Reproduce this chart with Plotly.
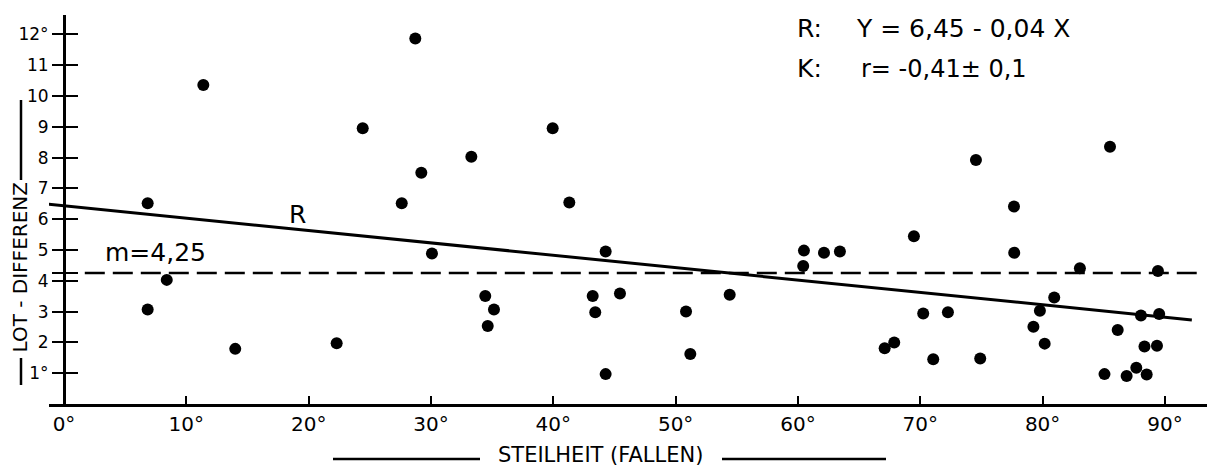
import plotly.graph_objects as go

# ---- data ----
steilheit = [6.84, 11.39, 24.42, 8.40, 6.84, 14.00, 22.29, 27.61, 28.72, 29.21,
             33.30, 39.95, 41.31, 30.08, 44.28, 34.44, 35.15, 34.64, 43.22, 43.43,
             45.45, 44.28, 50.85, 51.20, 54.42, 60.49, 60.43, 62.13, 63.43, 69.48,
             74.55, 77.66, 77.68, 85.51, 83.05, 89.43, 70.24, 72.26, 67.09, 67.87,
             71.06, 74.90, 80.95, 79.78, 79.25, 80.17, 88.04, 89.53, 86.14, 88.33,
             89.35, 85.06, 86.87, 87.66, 88.51]
lot_differenz = [6.52, 10.36, 8.95, 4.03, 3.07, 1.79, 1.97, 6.52, 11.87, 7.51,
                 8.03, 8.95, 6.54, 4.89, 4.95, 3.51, 3.07, 2.53, 3.51, 2.98,
                 3.59, 0.97, 3.00, 1.62, 3.55, 4.98, 4.48, 4.91, 4.95, 5.45,
                 7.92, 6.41, 4.91, 8.35, 4.41, 4.32, 2.94, 2.98, 1.81, 2.00,
                 1.45, 1.48, 3.46, 3.03, 2.51, 1.96, 2.87, 2.92, 2.40, 1.87,
                 1.89, 0.97, 0.91, 1.18, 0.96]

regr_x = [-1.3, 92.2]
regr_y = [6.49, 2.73]
mean_x = [1.7, 92.6]
mean_y = [4.25, 4.25]

x_tickvals = [0, 10, 20, 30, 40, 50, 60, 70, 80, 90]
x_ticktext = ["0°", "10°", "20°", "30°", "40°", "50°", "60°", "70°", "80°", "90°"]
y_tickvals = [1, 2, 3, 4, 4.25, 5, 6, 7, 8, 9, 10, 11, 12]
y_ticktext = ["1°", "2", "3", "4", "", "5", "6", "7", "8", "9", "10", "11", "12°"]

FONT = "DejaVu Sans"
W, H = 1210, 469
ML, MR, MT, MB = 49, 3, 15, 65
PW, PH = W - ML - MR, H - MT - MB
X_RANGE = [-1.226, 93.44]
Y_RANGE = [0, 12.63]
YPOS = (64 - ML) / PW


def px(x):
    return (x - ML) / PW


def py(y):
    return (H - MB - y) / PH


fig = go.Figure()

fig.add_trace(go.Scatter(
    x=mean_x, y=mean_y, mode="lines", yaxis="y2",
    line=dict(color="black", width=2.5, dash="20px,8px"),
    showlegend=False, hoverinfo="skip"))

fig.add_trace(go.Scatter(
    x=regr_x, y=regr_y, mode="lines",
    line=dict(color="black", width=3),
    showlegend=False, hoverinfo="skip", cliponaxis=False))

fig.add_trace(go.Scatter(
    x=steilheit, y=lot_differenz, mode="markers",
    marker=dict(color="black", size=12, line=dict(width=0)),
    showlegend=False, cliponaxis=False))

axis_common = dict(showgrid=False, zeroline=False)

fig.update_layout(
    width=W, height=H,
    margin=dict(l=ML, r=MR, t=MT, b=MB, autoexpand=False),
    paper_bgcolor="white", plot_bgcolor="white",
    font=dict(family=FONT, color="black"),
    xaxis=dict(range=X_RANGE, showline=True, linewidth=3, linecolor="black",
               ticks="inside", ticklen=8, tickwidth=2, tickcolor="black",
               tickvals=x_tickvals, ticktext=x_ticktext,
               tickfont=dict(family=FONT, size=20, color="black"),
               **axis_common),
    yaxis=dict(range=Y_RANGE, anchor="free", position=YPOS,
               showline=True, linewidth=3, linecolor="black",
               ticks="outside", ticklen=11, tickwidth=2, tickcolor="black",
               tickvals=y_tickvals, ticktext=y_ticktext,
               tickfont=dict(family=FONT, size=17, color="black"),
               **axis_common),
    yaxis2=dict(range=Y_RANGE, anchor="free", position=YPOS, overlaying="y",
                side="left", showline=False,
                ticks="inside", ticklen=13, tickwidth=2, tickcolor="black",
                tickvals=y_tickvals, showticklabels=False,
                **axis_common),
)

C = dict(xanchor="center", yanchor="middle", showarrow=False)
L = dict(xanchor="left", yanchor="middle", showarrow=False)
annotations = [
    dict(x=px(19.5), y=py(268), xref="paper", yref="paper", text="LOT - DIFFERENZ",
         textangle=-90, font=dict(size=20), **C),
    dict(x=px(600), y=py(455), xref="paper", yref="paper", text="STEILHEIT (FALLEN)",
         font=dict(size=21), **C),
    dict(x=19.05, y=6.14, xref="x", yref="y", text="R", font=dict(size=25), **C),
    dict(x=7.5, y=4.93, xref="x", yref="y", text="m=4,25", font=dict(size=25), **C),
    dict(x=59.75, y=12.2, xref="x", yref="y", text="R:", font=dict(size=25), **L),
    dict(x=64.6, y=12.2, xref="x", yref="y", text="Y = 6,45 - 0,04 X", font=dict(size=25), **L),
    dict(x=59.75, y=10.88, xref="x", yref="y", text="K:", font=dict(size=25), **L),
    dict(x=65.0, y=10.88, xref="x", yref="y", text="r= -0,41± 0,1", font=dict(size=24), **L),
]
fig.update_layout(annotations=annotations)

line_style = dict(color="black", width=2.5)
shapes = [
    dict(type="line", xref="paper", yref="paper", x0=px(21), x1=px(21), y0=py(100), y1=py(180), line=line_style),
    dict(type="line", xref="paper", yref="paper", x0=px(21), x1=px(21), y0=py(358), y1=py(385), line=line_style),
    dict(type="line", xref="paper", yref="paper", x0=px(333), x1=px(480), y0=py(459), y1=py(459), line=line_style),
    dict(type="line", xref="paper", yref="paper", x0=px(722), x1=px(886), y0=py(459), y1=py(459), line=line_style),
]
fig.update_layout(shapes=shapes)

fig.write_html("out.html", config={"displayModeBar": False},
               post_script="document.body.style.margin='0px';document.body.style.padding='0px';")
